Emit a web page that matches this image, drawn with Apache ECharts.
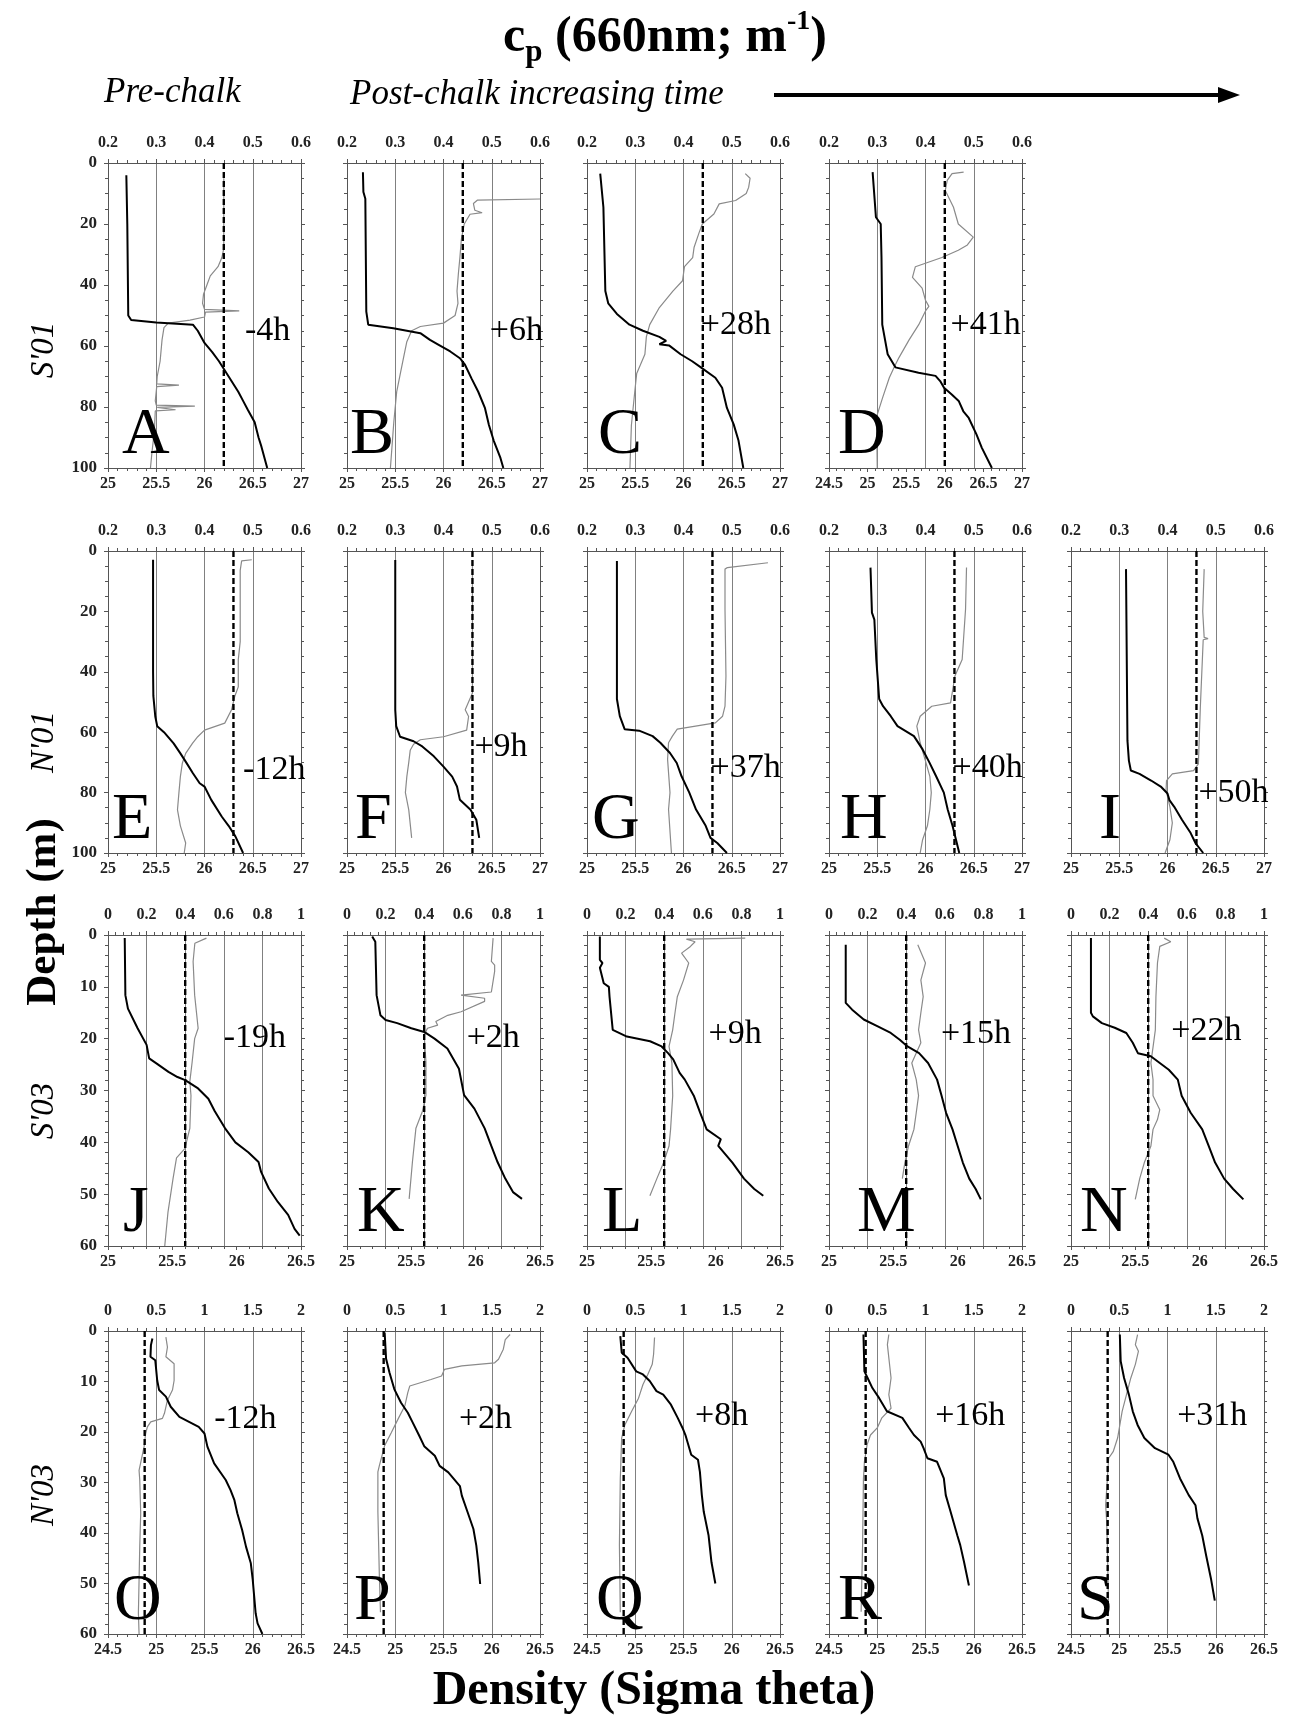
<!DOCTYPE html>
<html>
<head>
<meta charset="utf-8">
<script src="https://cdn.jsdelivr.net/npm/echarts@6/dist/echarts.min.js"></script>
<style>
html,body{margin:0;padding:0;background:#fff;}
#main{width:1291px;height:1717px;}
</style>
</head>
<body>
<div id="main"></div>
<script>
var SERIF = "'Liberation Serif','Times New Roman',serif";

// panel letters, hours relative to chalk release, reference cp (dashed line)
var letters = ['A','B','C','D','E','F','G','H','I','J','K','L','M','N','O','P','Q','R','S'];
var hours = ['-4h','+6h','+28h','+41h','-12h','+9h','+37h','+40h','+50h','-19h','+2h','+9h','+15h','+22h','-12h','+2h','+8h','+16h','+31h'];
var refCp = [0.44,0.44,0.44,0.44, 0.46,0.46,0.46,0.46,0.46, 0.4,0.4,0.4,0.4,0.4, 0.38,0.38,0.38,0.38,0.38];
var rowNames = ["S'01", "N'01", "S'03", "N'03"];

// axis ranges per row (top = cp, bottom = density, left = depth)
var rowCpMin = [0.2, 0.2, 0, 0];
var rowCpMax = [0.6, 0.6, 1, 2];
var rowCpStep = [0.1, 0.1, 0.2, 0.5];
var densMin = [25,25,25,24.5, 25,25,25,25,25, 25,25,25,25,25, 24.5,24.5,24.5,24.5,24.5];
var rowDensMax = [27, 27, 26.5, 26.5];
var rowDepthMax = [100, 100, 60, 60];
var rowDepthStep = [20, 20, 10, 10];
var rowDepthMinor = [4, 4, 5, 5];

// profiles: [value, depth m]; dens = sigma theta (black), cp = 660nm beam attenuation (grey)
var densA = [[25.19,4],[25.2,20],[25.21,50],[25.24,51.5],[25.5,52.3],[25.88,53],[25.93,55],[26.0,59],[26.08,62],[26.15,65],[26.25,70],[26.35,75],[26.4,78],[26.45,81],[26.52,85],[26.56,90],[26.59,93],[26.65,100]];
var cpA = [[0.44,5],[0.44,28],[0.436,31],[0.428,34],[0.412,37],[0.405,40],[0.398,43],[0.396,46],[0.4,48],[0.472,48.5],[0.402,48.9],[0.4,50.5],[0.37,51.5],[0.325,52.5],[0.316,54],[0.312,58],[0.308,65],[0.302,70],[0.301,72.4],[0.347,72.8],[0.301,73.3],[0.298,78],[0.3,79.4],[0.38,79.7],[0.302,80.1],[0.34,80.9],[0.298,81.3],[0.296,88],[0.291,95],[0.288,100]];
var densB = [[25.165,3],[25.17,9.5],[25.19,11.7],[25.2,48.7],[25.22,53],[25.48,54.2],[25.76,55.8],[25.86,58],[25.95,59.6],[26.07,61.8],[26.17,64],[26.22,66],[26.29,70.6],[26.36,75],[26.43,80.4],[26.47,85.8],[26.52,91],[26.59,96.7],[26.62,100]];
var cpB = [[0.6,11.8],[0.47,12.2],[0.462,13.3],[0.465,15.5],[0.48,16.3],[0.455,16.8],[0.443,20],[0.437,25],[0.434,31],[0.431,36],[0.428,42],[0.43,46],[0.424,50],[0.4,52.5],[0.352,53.6],[0.334,55],[0.324,58.6],[0.317,64],[0.31,69.5],[0.303,75],[0.297,85],[0.29,100]];
var densC = [[25.137,3.5],[25.17,14.5],[25.19,42],[25.22,46],[25.31,49.5],[25.44,53],[25.58,55],[25.75,57],[25.82,58.3],[25.75,59.4],[25.85,59.8],[25.97,62.7],[26.09,65],[26.18,67],[26.33,70.4],[26.4,73.7],[26.45,80.3],[26.52,85.7],[26.57,91],[26.62,100]];
var cpC = [[0.528,3.5],[0.538,5],[0.535,8],[0.53,10],[0.508,12.3],[0.474,13.4],[0.463,16.7],[0.439,20],[0.432,23],[0.422,27.6],[0.419,31],[0.402,34],[0.398,38.6],[0.378,42],[0.35,47.4],[0.33,53],[0.323,57],[0.32,62.7],[0.303,69],[0.299,75],[0.292,86],[0.289,100]];
var densD = [[25.065,3],[25.108,17.8],[25.17,20],[25.18,31],[25.19,53],[25.26,62.7],[25.36,67],[25.66,68.8],[25.88,69.8],[25.94,71.5],[25.99,73.7],[26.09,75.9],[26.18,78],[26.24,81.4],[26.31,83.6],[26.41,89],[26.48,93.4],[26.61,100]];
var cpD = [[0.479,3],[0.455,3.5],[0.445,5.7],[0.441,9],[0.458,14.5],[0.468,20],[0.499,24.3],[0.486,27],[0.468,28.6],[0.434,31],[0.379,34],[0.373,37.5],[0.393,41],[0.4,45],[0.407,47],[0.4,48.5],[0.386,53],[0.366,58],[0.345,63.8],[0.335,67],[0.325,70.4],[0.311,77],[0.3,82.5],[0.299,88],[0.3,100]];
var densE = [[25.467,2.9],[25.467,40],[25.47,48],[25.49,54.8],[25.51,58],[25.58,60],[25.68,63.7],[25.75,67],[25.81,70],[25.88,73.6],[25.95,76.9],[26.0,78],[26.07,82.4],[26.18,88],[26.25,91],[26.32,94.5],[26.4,100]];
var cpE = [[0.498,2.9],[0.477,3.3],[0.474,6.4],[0.474,30],[0.47,36],[0.47,45],[0.463,48],[0.456,52.6],[0.442,57],[0.4,59.3],[0.386,61.5],[0.375,63.7],[0.361,67],[0.354,70.3],[0.35,74.7],[0.347,80],[0.344,85.7],[0.35,91],[0.361,96.7],[0.358,100]];
var densF = [[25.5,3],[25.5,52.6],[25.51,58],[25.55,61.5],[25.69,63],[25.78,64.7],[25.9,68],[26.0,71.4],[26.09,74.7],[26.14,78],[26.17,82.4],[26.28,85.7],[26.34,89],[26.37,95]];
var cpF = [[0.46,3],[0.46,47],[0.445,52.6],[0.452,54.8],[0.448,59.3],[0.4,61.5],[0.352,62.5],[0.338,64],[0.331,66],[0.328,70],[0.324,74.7],[0.321,80],[0.328,85.7],[0.334,95]];
var densG = [[25.31,3.3],[25.31,49],[25.34,54.7],[25.39,59],[25.54,59.5],[25.68,61.3],[25.76,63.5],[25.86,66.9],[25.93,70.2],[25.98,74.6],[26.06,80],[26.13,85.6],[26.23,91],[26.28,95],[26.35,96.7],[26.45,100]];
var cpG = [[0.575,3.9],[0.491,5.5],[0.486,6],[0.486,19.3],[0.488,41.4],[0.486,51.4],[0.481,54.7],[0.466,56.9],[0.387,59],[0.377,61.3],[0.369,63.5],[0.367,69],[0.372,80],[0.369,85.6],[0.375,100]];
var densH = [[25.43,5.5],[25.445,20.4],[25.47,22.7],[25.49,35.9],[25.52,49],[25.56,51.4],[25.64,54.7],[25.71,58],[25.88,61.3],[25.97,65.7],[26.04,70],[26.11,74.6],[26.19,80],[26.23,85.6],[26.28,91],[26.35,100]];
var cpH = [[0.485,5.5],[0.483,19.3],[0.476,35.9],[0.461,41.4],[0.452,50.3],[0.413,51.4],[0.389,54.7],[0.382,58],[0.389,63.5],[0.399,69],[0.409,74.6],[0.412,80],[0.409,85.6],[0.404,91],[0.394,95.6],[0.389,100]];
var densI = [[25.57,6],[25.585,62.8],[25.6,69.4],[25.62,72.7],[25.71,73.8],[25.83,76],[25.93,78],[26.0,80.3],[26.02,82.5],[26.07,84.7],[26.15,89],[26.24,93.4],[26.29,96.7],[26.37,100]];
var cpI = [[0.476,6],[0.473,20],[0.476,28.6],[0.484,29],[0.474,29.4],[0.468,52],[0.464,70.5],[0.454,72.7],[0.41,73.8],[0.398,76],[0.397,79.2],[0.405,84.7],[0.41,90],[0.405,95.6],[0.395,100]];
var densJ = [[25.13,0.6],[25.135,11.6],[25.155,14.2],[25.23,18],[25.3,21.2],[25.32,23.8],[25.39,25],[25.47,26.4],[25.54,27.4],[25.6,28],[25.7,29.6],[25.78,31.6],[25.83,34],[25.91,37.3],[25.99,40],[26.09,41.9],[26.17,43.8],[26.19,45.7],[26.25,48.9],[26.32,51.5],[26.4,54],[26.45,56.7],[26.49,58]];
var cpJ = [[0.51,0.6],[0.45,1.6],[0.441,5.1],[0.449,11.6],[0.467,18],[0.449,20],[0.436,24.5],[0.424,28.3],[0.43,31],[0.424,37.3],[0.398,41.2],[0.355,43],[0.337,47],[0.311,53.4],[0.294,60]];
var densK = [[25.196,0.3],[25.22,1.3],[25.23,11.6],[25.26,15.5],[25.3,16.4],[25.39,17],[25.5,18],[25.6,18.7],[25.68,20],[25.78,21.9],[25.84,24.5],[25.87,25.8],[25.91,30.9],[25.99,33.5],[26.07,37.3],[26.12,40.6],[26.17,43.8],[26.23,47],[26.29,49.6],[26.36,50.9]];
var cpK = [[0.757,0.6],[0.748,5.1],[0.765,5.8],[0.765,7],[0.748,11],[0.591,11.6],[0.713,12.2],[0.713,12.8],[0.591,14.8],[0.522,15.5],[0.46,16.7],[0.47,17.4],[0.417,18],[0.4,19.3],[0.409,24.5],[0.409,30.9],[0.391,34],[0.357,37.3],[0.339,43.8],[0.322,50.9]];
var densL = [[25.1,0.3],[25.1,4.8],[25.12,5.4],[25.1,6.3],[25.13,9.3],[25.17,10],[25.175,11.9],[25.2,18.3],[25.31,19.6],[25.49,20.5],[25.58,21.5],[25.63,22.8],[25.67,24],[25.72,26.6],[25.76,27.9],[25.83,31],[25.88,34.3],[25.93,37.5],[26.04,39.4],[26.02,40.7],[26.13,43.9],[26.22,47],[26.3,49],[26.37,50.3]];
var cpL = [[0.82,0.6],[0.515,0.8],[0.56,1.3],[0.536,2.2],[0.49,3.5],[0.527,5.4],[0.5,8.7],[0.468,11.9],[0.456,15],[0.444,18.3],[0.425,21.5],[0.44,24.7],[0.444,31],[0.433,37.5],[0.425,40.7],[0.397,43.9],[0.362,47],[0.326,50.3]];
var densM = [[25.13,1.9],[25.13,13.1],[25.18,14.4],[25.27,16.3],[25.375,17.6],[25.48,18.9],[25.55,20.2],[25.61,21.5],[25.7,22.8],[25.77,24.7],[25.84,27.9],[25.875,31],[25.91,34.3],[25.96,37.5],[26.0,40.7],[26.04,43.9],[26.09,47],[26.14,49],[26.18,51]];
var cpM = [[0.46,1.9],[0.5,5.4],[0.476,8.7],[0.488,11.9],[0.476,15],[0.464,18.3],[0.476,20.8],[0.429,24.7],[0.452,27.9],[0.464,31],[0.452,34.3],[0.44,37.5],[0.412,40.7],[0.393,43.9],[0.38,47]];
var densN = [[25.155,0.6],[25.155,15],[25.17,15.7],[25.24,17],[25.34,17.9],[25.43,18.9],[25.48,20.8],[25.52,22.8],[25.62,23.4],[25.69,24.7],[25.76,26],[25.83,27.9],[25.86,31],[25.93,34.3],[26.02,37.5],[26.07,40.7],[26.12,43.9],[26.19,47],[26.26,49],[26.34,51]];
var cpN = [[0.483,0.6],[0.517,1.3],[0.46,2.2],[0.448,5.4],[0.44,11.9],[0.437,18.3],[0.414,24.7],[0.425,27.9],[0.425,31],[0.46,33.7],[0.448,35.6],[0.425,37.5],[0.414,40.7],[0.38,43.9],[0.356,47],[0.333,51]];
var densO = [[24.96,1.5],[24.945,2.8],[24.94,5.1],[24.99,5.8],[25.01,9.8],[25.03,11.7],[25.1,13],[25.15,15],[25.24,17],[25.34,18],[25.44,19],[25.5,20.3],[25.53,22.9],[25.6,26.2],[25.72,29.5],[25.77,31.5],[25.81,33.5],[25.84,36.1],[25.89,39.4],[25.93,42.7],[25.98,46],[26.0,49.3],[26.03,55.9],[26.05,57.9],[26.1,60]];
var cpO = [[0.6,1.2],[0.616,3.2],[0.6,5.1],[0.685,6.5],[0.685,9.8],[0.668,11.7],[0.616,13.7],[0.585,16.3],[0.564,17.3],[0.443,18],[0.408,19],[0.39,20.3],[0.374,22.9],[0.322,27.6],[0.329,29.5],[0.339,36.1],[0.329,42.7],[0.322,49.3],[0.315,55.9],[0.322,60]];
var densP = [[24.89,0.3],[24.905,5.5],[24.94,8.2],[24.99,11.5],[25.06,14.2],[25.13,16.2],[25.18,18.1],[25.25,20.8],[25.3,22.8],[25.41,24.7],[25.46,26.7],[25.55,28],[25.67,30.7],[25.69,32.6],[25.75,35.9],[25.81,39.2],[25.84,42.5],[25.86,45.8],[25.88,50.1]];
var cpP = [[1.69,0.7],[1.64,1.7],[1.62,3.6],[1.57,5.6],[1.53,6.3],[1.19,6.9],[1.01,7.6],[0.98,8.9],[0.87,9.6],[0.65,10.9],[0.63,12.2],[0.6,14.8],[0.53,17.4],[0.46,20.1],[0.39,22.7],[0.336,26.6],[0.32,27.9],[0.32,35.8],[0.336,49],[0.347,55.7]];
var densQ = [[24.845,1],[24.86,4.3],[24.92,5.3],[25.01,8],[25.08,8.6],[25.15,9.9],[25.22,11.9],[25.29,12.6],[25.37,14.6],[25.44,17.2],[25.49,19.2],[25.52,20.6],[25.58,24.5],[25.65,25.5],[25.67,27.9],[25.69,32.5],[25.71,35.8],[25.76,40.5],[25.79,45.8],[25.83,50]];
var cpQ = [[0.7,1.3],[0.69,4.6],[0.676,6.6],[0.63,8.6],[0.58,10.6],[0.534,13.3],[0.463,15.9],[0.392,18.6],[0.359,21.2],[0.35,26.5],[0.345,29.2],[0.336,42.4],[0.345,55.7]];
var densR = [[24.857,0.7],[24.867,8],[24.9,9.3],[24.95,11.3],[25.02,13.3],[25.1,15.9],[25.26,17.2],[25.33,19.2],[25.38,20.6],[25.45,21.9],[25.48,23.2],[25.52,25.2],[25.62,25.9],[25.69,29.2],[25.71,32.5],[25.76,35.8],[25.83,40.5],[25.86,42.4],[25.9,45.8],[25.95,50.4]];
var cpR = [[0.62,0.7],[0.605,2.7],[0.643,9.3],[0.62,12.6],[0.643,15.3],[0.548,17.2],[0.5,19.2],[0.43,20.6],[0.395,22.5],[0.367,25.9],[0.357,29.2],[0.348,42.4],[0.333,55.6]];
var densS = [[25.006,0.7],[25.015,6],[25.05,9.3],[25.1,12.6],[25.14,15.9],[25.19,18.6],[25.26,21.2],[25.37,23.2],[25.51,24.5],[25.56,25.9],[25.63,29.2],[25.72,32.5],[25.79,34.5],[25.81,37.1],[25.86,40.5],[25.9,44.4],[25.95,49],[25.99,53.4]];
var cpS = [[0.69,0.7],[0.667,2.7],[0.699,4],[0.667,6.6],[0.62,9.3],[0.575,12.6],[0.53,15.9],[0.483,21.2],[0.437,23.9],[0.39,25.2],[0.377,29.2],[0.359,34.5],[0.368,37.1],[0.377,42.4],[0.39,55.6]];

var densList = [densA,densB,densC,densD,densE,densF,densG,densH,densI,densJ,densK,densL,densM,densN,densO,densP,densQ,densR,densS];
var cpList = [cpA,cpB,cpC,cpD,cpE,cpF,cpG,cpH,cpI,cpJ,cpK,cpL,cpM,cpN,cpO,cpP,cpQ,cpR,cpS];

// layout of the panel grid
var panelRow = [0,0,0,0,1,1,1,1,1,2,2,2,2,2,3,3,3,3,3];
var panelCol = [0,1,2,3,0,1,2,3,4,0,1,2,3,4,0,1,2,3,4];
var colLeft = [108, 347, 587, 829, 1071];
var panelW = 193;
var rowTop = [163, 551, 935, 1331];
var rowH = [305, 302, 311, 303];
var rowLabelY = [350, 742, 1111, 1495];
var letterDx = [14,3,11,9, 4,8,5,11,28, 15,10,15,28,9, 6,7,9,9,6];
var timePos = [[0.71,0.55],[0.74,0.55],[0.59,0.53],[0.63,0.53],
  [0.70,0.725],[0.66,0.65],[0.64,0.72],[0.64,0.72],[0.66,0.80],
  [0.60,0.33],[0.62,0.33],[0.63,0.32],[0.58,0.32],[0.52,0.31],
  [0.55,0.29],[0.58,0.29],[0.56,0.28],[0.55,0.28],[0.55,0.28]];

var chart = echarts.init(document.getElementById('main'));

var frame = {color:'#555', width:1};
var tickLbl = {fontFamily:SERIF, fontSize:16, fontWeight:'bold', color:'#222'};
var grids=[], xAxes=[], yAxes=[], series=[], graphics=[];

for (var i=0;i<letters.length;i++){
	var r=panelRow[i], c=panelCol[i];
	var L=colLeft[c], T=rowTop[r], W=panelW, H=rowH[r];
	grids.push({left:L, top:T, width:W, height:H});

	// density (bottom)
	xAxes.push({gridIndex:i, type:'value', position:'bottom', min:densMin[i], max:rowDensMax[r], interval:0.5,
		axisLine:{show:true, onZero:false, lineStyle:frame},
		axisTick:{show:true, length:4, lineStyle:frame},
		minorTick:{show:true, splitNumber:5, length:3, lineStyle:frame},
		splitLine:{show:false},
		axisLabel:Object.assign({margin:8}, tickLbl)});
	// cp (top)
	xAxes.push({gridIndex:i, type:'value', position:'top', min:rowCpMin[r], max:rowCpMax[r], interval:rowCpStep[r],
		axisLine:{show:true, onZero:false, lineStyle:frame},
		axisTick:{show:true, length:4, lineStyle:frame},
		minorTick:{show:true, splitNumber:5, length:3, lineStyle:frame},
		splitLine:{show:true, lineStyle:{color:'#808080', width:1}},
		axisLabel:Object.assign({margin:12}, tickLbl)});
	// depth
	yAxes.push({gridIndex:i, type:'value', position:'left', inverse:true, min:0, max:rowDepthMax[r], interval:rowDepthStep[r],
		axisLine:{show:true, onZero:false, lineStyle:frame},
		axisTick:{show:true, length:4, lineStyle:frame},
		minorTick:{show:true, splitNumber:rowDepthMinor[r], length:3, lineStyle:frame},
		splitLine:{show:false},
		axisLabel:Object.assign({show:c===0, margin:11}, tickLbl, {fontSize:17})});
	yAxes.push({gridIndex:i, type:'value', position:'right', inverse:true, min:0, max:rowDepthMax[r], interval:rowDepthStep[r],
		axisLine:{show:true, onZero:false, lineStyle:frame},
		axisTick:{show:true, length:4, lineStyle:frame},
		minorTick:{show:true, splitNumber:rowDepthMinor[r], length:3, lineStyle:frame},
		splitLine:{show:false}, axisLabel:{show:false}});

	series.push({type:'line', xAxisIndex:2*i+1, yAxisIndex:2*i, data:cpList[i], symbol:'none',
		lineStyle:{color:'#8a8a8a', width:1.2}, z:2});
	series.push({type:'line', xAxisIndex:2*i+1, yAxisIndex:2*i, data:[[refCp[i],0],[refCp[i],rowDepthMax[r]]], symbol:'none',
		lineStyle:{color:'#000', width:2.4, type:[6,3]}, z:3});
	series.push({type:'line', xAxisIndex:2*i, yAxisIndex:2*i, data:densList[i], symbol:'none',
		lineStyle:{color:'#000', width:2}, z:4});

	graphics.push({type:'text', x:L+letterDx[i], y:T+H+1, z:10,
		style:{text:letters[i], fontSize:66, fontFamily:SERIF, fill:'#000', align:'left', verticalAlign:'bottom'}});
	graphics.push({type:'text', x:L+W*timePos[i][0], y:T+H*timePos[i][1], z:10,
		style:{text:hours[i], fontSize:34, fontFamily:SERIF, fill:'#000', align:'left', verticalAlign:'middle'}});
}

// headings
graphics.push({type:'text', x:665, y:38, z:10, style:{
	text:'{b|c}{s|p}{b| (660nm; m}{u|-1}{b|)}', align:'center', verticalAlign:'middle',
	rich:{
		b:{fontSize:50, fontWeight:'bold', fontFamily:SERIF, lineHeight:60, verticalAlign:'middle'},
		s:{fontSize:31, fontWeight:'bold', fontFamily:SERIF, lineHeight:30, verticalAlign:'bottom'},
		u:{fontSize:28, fontWeight:'bold', fontFamily:SERIF, lineHeight:28, verticalAlign:'top'}
	}}});
graphics.push({type:'text', x:104, y:93, style:{text:'Pre-chalk', fontSize:35, fontStyle:'italic', fontFamily:SERIF, fill:'#000', verticalAlign:'middle'}});
graphics.push({type:'text', x:350, y:95, style:{text:'Post-chalk increasing time', fontSize:35, fontStyle:'italic', fontFamily:SERIF, fill:'#000', verticalAlign:'middle'}});
graphics.push({type:'line', shape:{x1:774, y1:95, x2:1222, y2:95}, style:{stroke:'#000', lineWidth:4}});
graphics.push({type:'polygon', shape:{points:[[1218,87],[1240,95],[1218,103]]}, style:{fill:'#000'}});

for (var k=0;k<rowNames.length;k++){
	graphics.push({type:'text', x:44, y:rowLabelY[k], rotation:Math.PI/2, style:{text:rowNames[k], fontSize:33, fontStyle:'italic', fontFamily:SERIF, fill:'#000', align:'center', verticalAlign:'middle'}});
}
graphics.push({type:'text', x:44, y:912, rotation:Math.PI/2, style:{text:'Depth (m)', fontSize:43, fontWeight:'bold', fontFamily:SERIF, fill:'#000', align:'center', verticalAlign:'middle'}});
graphics.push({type:'text', x:654, y:1692, style:{text:'Density (Sigma theta)', fontSize:48, fontWeight:'bold', fontFamily:SERIF, fill:'#000', align:'center', verticalAlign:'middle'}});

chart.setOption({
	animation:false,
	backgroundColor:'#fff',
	grid:grids, xAxis:xAxes, yAxis:yAxes, series:series, graphic:graphics
});
</script>
</body>
</html>
